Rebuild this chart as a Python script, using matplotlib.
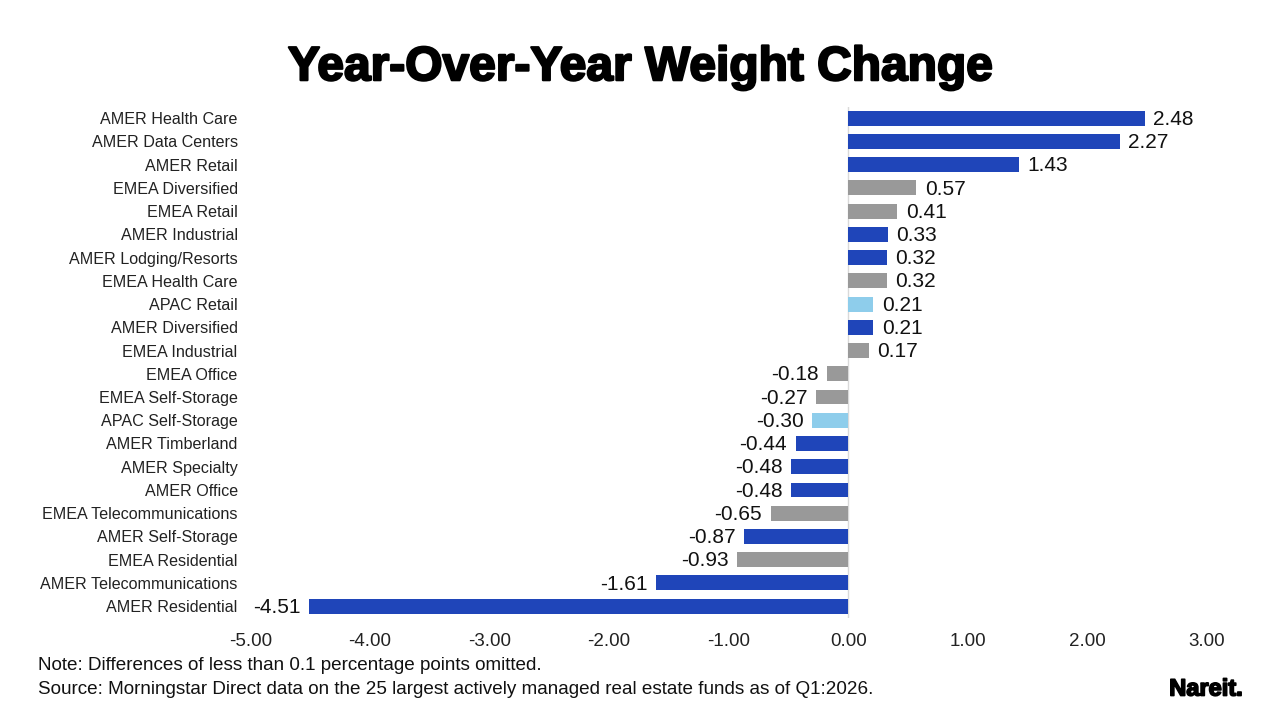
import matplotlib
matplotlib.use("Agg")
import matplotlib.pyplot as plt
import matplotlib.patheffects as pe

categories = ["AMER Health Care", "AMER Data Centers", "AMER Retail", "EMEA Diversified",
              "EMEA Retail", "AMER Industrial", "AMER Lodging/Resorts", "EMEA Health Care",
              "APAC Retail", "AMER Diversified", "EMEA Industrial", "EMEA Office",
              "EMEA Self-Storage", "APAC Self-Storage", "AMER Timberland", "AMER Specialty",
              "AMER Office", "EMEA Telecommunications", "AMER Self-Storage", "EMEA Residential",
              "AMER Telecommunications", "AMER Residential"]
values = [2.48, 2.27, 1.43, 0.57, 0.41, 0.33, 0.32, 0.32, 0.21, 0.21, 0.17, -0.18,
          -0.27, -0.30, -0.44, -0.48, -0.48, -0.65, -0.87, -0.93, -1.61, -4.51]
regions = [c.split()[0] for c in categories]
region_colors = {"AMER": "#1F45B9", "EMEA": "#999999", "APAC": "#8ECDEB"}
xticks = [-5, -4, -3, -2, -1, 0, 1, 2, 3]

plt.rcParams['font.family'] = ['Liberation Sans', 'DejaVu Sans']

fig = plt.figure(figsize=(12.8, 7.2), dpi=100)
ax = fig.add_axes([0.1955, 0.142, 0.7475, 0.71])

ypos = list(range(len(categories)))
colors = [region_colors[r] for r in regions]
ax.barh(ypos, values, height=0.64, color=colors, zorder=2)
ax.set_ylim(len(categories) - 0.5, -0.5)
ax.set_xlim(-5, 3)
ax.axvline(0, color="#D9D9D9", lw=1, zorder=1)

for y, v in zip(ypos, values):
    if v >= 0:
        ax.text(v + 0.07, y + 0.05, f"{v:.2f}", va="center", ha="left", fontsize=15, color="#111111")
    else:
        ax.text(v - 0.07, y + 0.05, f"{v:.2f}", va="center", ha="right", fontsize=15, color="#111111")

ax.set_yticks(ypos)
ax.set_yticklabels(categories, fontsize=11.6, color="#222222")
ax.set_xticks(xticks)
ax.set_xticklabels([f"{t:.2f}" for t in xticks], fontsize=13.5, color="#222222")
ax.tick_params(axis="both", length=0)
ax.tick_params(axis="y", pad=9)
ax.tick_params(axis="x", pad=11)
for s in ax.spines.values():
    s.set_visible(False)

fig.text(0.5, 0.906, "Year-Over-Year Weight Change", ha="center", va="center",
         fontsize=34.5, fontweight="bold", color="black",
         path_effects=[pe.withStroke(linewidth=1.6, foreground="black")])
fig.text(0.030, 0.075, "Note: Differences of less than 0.1 percentage points omitted.",
         fontsize=13.6, color="#111111", va="center")
fig.text(0.030, 0.043, "Source: Morningstar Direct data on the 25 largest actively managed real estate funds as of Q1:2026.",
         fontsize=13.6, color="#111111", va="center")
fig.text(0.971, 0.043, "Nareit.", fontsize=17, fontweight="bold", ha="right", va="center", color="black",
         path_effects=[pe.withStroke(linewidth=1.2, foreground="black")])

fig.savefig("out.png", dpi=100)
